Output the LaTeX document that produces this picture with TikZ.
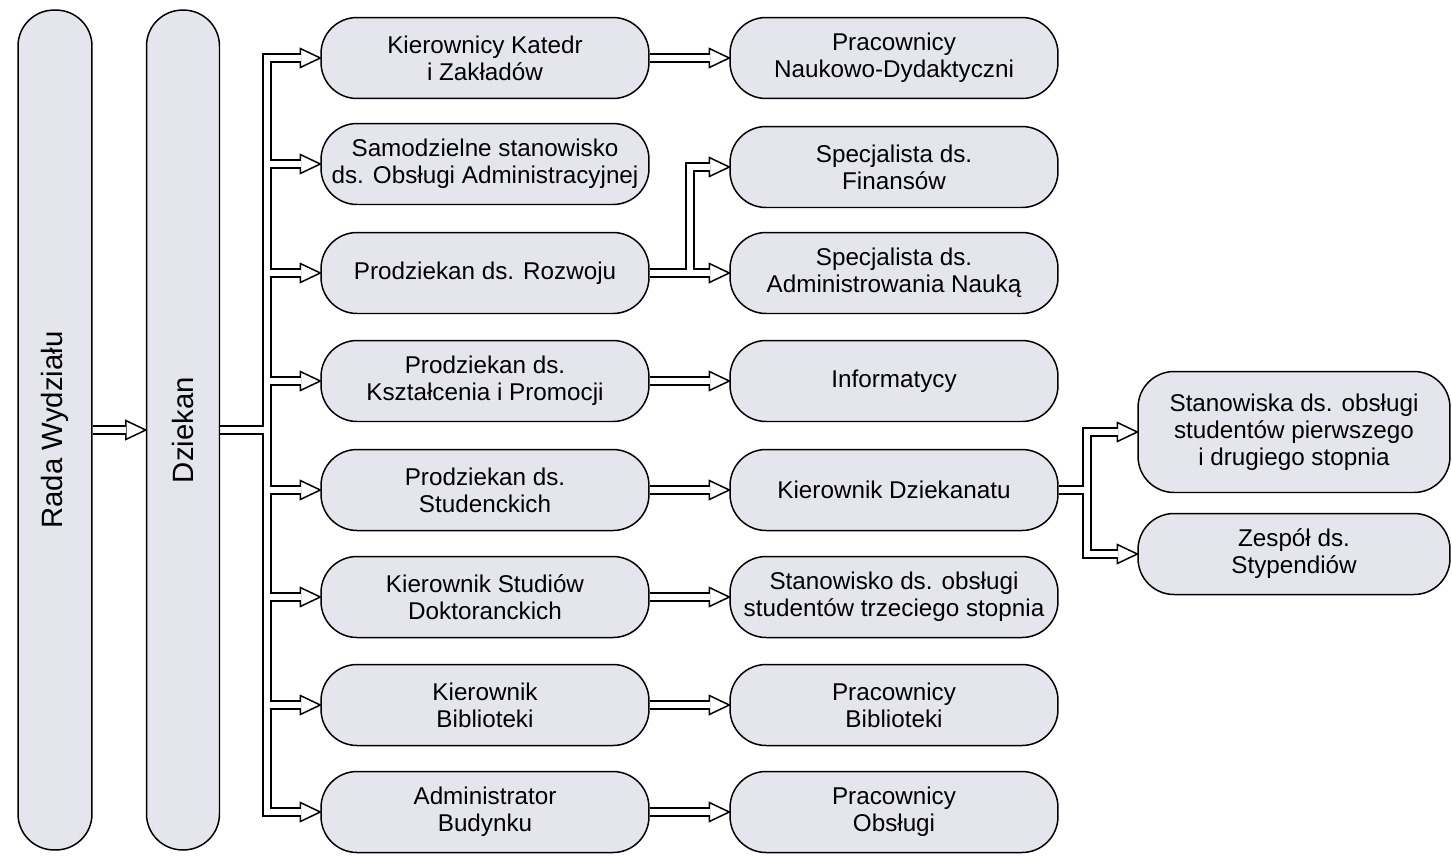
\documentclass[tikz,border=0pt]{standalone}
\usepackage{fontspec}
\setmainfont{Liberation Sans}
\usetikzlibrary{calc}
\pgfdeclarelayer{bg}
\pgfsetlayers{bg,main}
\definecolor{boxfill}{RGB}{229,229,237}
\begin{document}
\begin{tikzpicture}[x=0.02cm,y=-0.02cm,
  box/.style={draw, line width=0.85pt, fill=boxfill, rounded corners=0.72cm, minimum width=6.56cm, minimum height=1.62cm, align=center, inner sep=0pt, font=\fontsize{13.8}{15.4}\selectfont},
  tall/.style={draw, line width=0.85pt, fill=boxfill, rounded corners=0.72cm, minimum width=1.48cm, minimum height=16.8cm, inner sep=0pt, font=\fontsize{16.7}{19}\selectfont},
  shaftout/.style={line width=5.45pt, draw=black, line join=miter},
  shaftin/.style={line width=3.75pt, draw=white, line join=miter},
  head/.style={line width=0.85pt, draw=black, fill=white, line join=miter}]

% left columns
\node[tall] (rada) at (55,430) {\rotatebox{90}{Rada Wydziału}};
\node[tall, minimum width=1.46cm] (dziekan) at (183,430) {\rotatebox{90}{Dziekan}};

% column 1
\node[box] (a1) at (485,58)  {Kierownicy Katedr\\i Zakładów};
\node[box] (a2) at (485,164) {Samodzielne stanowisko\\ds. Obsługi Administracyjnej};
\node[box] (a3) at (485,273) {Prodziekan ds. Rozwoju};
\node[box] (a4) at (485,381) {Prodziekan ds.\\Kształcenia i Promocji};
\node[box] (a5) at (485,490) {Prodziekan ds.\\Studenckich};
\node[box] (a6) at (485,597) {Kierownik Studiów\\Doktoranckich};
\node[box] (a7) at (485,705) {Kierownik\\Biblioteki};
\node[box] (a8) at (485,812) {Administrator\\Budynku};

% column 2
\node[box] (b1) at (894,58)  {Pracownicy\\Naukowo-Dydaktyczni};
\node[box] (b2) at (894,167) {Specjalista ds.\\Finansów};
\node[box] (b3) at (894,273) {Specjalista ds.\\Administrowania Nauką};
\node[box] (b4) at (894,381) {Informatycy};
\node[box] (b5) at (894,490) {Kierownik Dziekanatu};
\node[box] (b6) at (894,597) {Stanowisko ds. obsługi\\studentów trzeciego stopnia};
\node[box] (b7) at (894,705) {Pracownicy\\Biblioteki};
\node[box] (b8) at (894,812) {Pracownicy\\Obsługi};

% column 3
\node[box, minimum width=6.24cm, minimum height=2.42cm] (c1) at (1294,432) {Stanowiska ds. obsługi\\studentów pierwszego\\i drugiego stopnia};
\node[box, minimum width=6.24cm] (c2) at (1294,554) {Zespół ds.\\Stypendiów};

\coordinate (tk) at (267,430);
\coordinate (s1) at (690,273);
\coordinate (s2) at (1087,490);

\begin{pgfonlayer}{bg}
\fill[white] (0,0) rectangle (1452,859);
% arrow heads
\foreach \n in {dziekan,a1,a2,a3,a4,a5,a6,a7,a8,b1,b2,b3,b4,b5,b6,b7,b8,c1,c2}
  \draw[head] ($(\n.west)+(-20,-9.5)$) -- (\n.west) -- ($(\n.west)+(-20,9.5)$) -- cycle;
% shafts, outer then inner pass
\foreach \s in {shaftout,shaftin}{
  \draw[\s] (rada.east) -- ($(dziekan.west)+(-19.3,0)$);
  \draw[\s] (dziekan.east) -- (tk);
  \draw[\s] ($(a1.west)+(-19.3,0)$) -- (tk |- a1.west) -- (tk |- a8.west) -- ($(a8.west)+(-19.3,0)$);
  \foreach \m in {a2,a3,a4,a5,a6,a7}
    \draw[\s] (tk |- \m.west) -- ($(\m.west)+(-19.3,0)$);
  \draw[\s] (a1.east) -- ($(b1.west)+(-19.3,0)$);
  \draw[\s] (a3.east) -- ($(b3.west)+(-19.3,0)$);
  \draw[\s] (s1) -- (s1 |- b2.west) -- ($(b2.west)+(-19.3,0)$);
  \draw[\s] (a4.east) -- ($(b4.west)+(-19.3,0)$);
  \draw[\s] (a5.east) -- ($(b5.west)+(-19.3,0)$);
  \draw[\s] (a6.east) -- ($(b6.west)+(-19.3,0)$);
  \draw[\s] (a7.east) -- ($(b7.west)+(-19.3,0)$);
  \draw[\s] (a8.east) -- ($(b8.west)+(-19.3,0)$);
  \draw[\s] (b5.east) -- (s2);
  \draw[\s] ($(c1.west)+(-19.3,0)$) -- (s2 |- c1.west) -- (s2 |- c2.west) -- ($(c2.west)+(-19.3,0)$);
}
\end{pgfonlayer}
\end{tikzpicture}
\end{document}
